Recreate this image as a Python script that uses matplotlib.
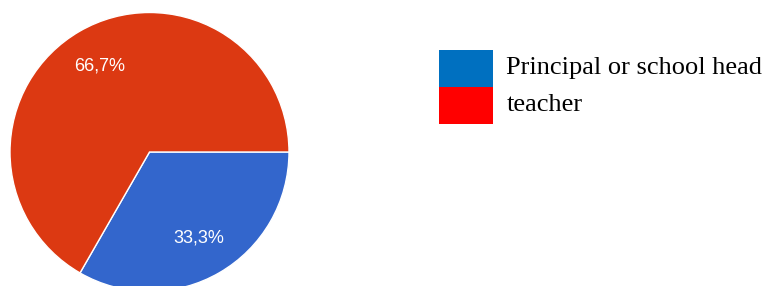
import matplotlib
matplotlib.use('Agg')
from matplotlib import pyplot as plt
from matplotlib.patches import Patch, Rectangle
from matplotlib.legend_handler import HandlerPatch

# -- DATA
labels = ['Principal or school head', 'teacher']
values = [33.3, 66.7]
pie_colors = ['#3366CC', '#DC3912']
legend_colors = ['#0070C0', '#FF0000']

W, H = 768, 286
fig = plt.figure(figsize=(W/100, H/100), dpi=100)

# pie axes: center (149.5, 152) px from top, radius 139.5 px
cx, cy, r = 149.5, 152, 139.5
ax = fig.add_axes([(cx-r)/W, (H-cy-r)/H, 2*r/W, 2*r/H])
wedges, texts, autotexts = ax.pie(values, colors=pie_colors, startangle=0, counterclock=False,
                                  autopct=lambda p: ('%.1f%%' % p).replace('.', ','),
                                  pctdistance=0.71, radius=1,
                                  wedgeprops=dict(edgecolor='white', linewidth=1))
for t in autotexts:
    t.set_color('white')
    t.set_fontsize(13)
    t.set_fontfamily('Liberation Sans')
ax.set_xlim(-1, 1)
ax.set_ylim(-1, 1)
ax.set_aspect('equal')
ax.axis('off')

# legend swatches, moved down a bit relative to the text baseline
shift = 3 * 0.72  # px -> pt
def swatch(legend, orig_handle, xdescent, ydescent, width, height, fontsize):
    return Rectangle((-xdescent, -ydescent - shift), width, height)

handles = [Patch(facecolor=c, edgecolor='none') for c in legend_colors]
fs = 19
fig.legend(handles, labels, loc='upper left', bbox_to_anchor=(439/W, 1-47/H),
           frameon=False, borderpad=0, borderaxespad=0,
           prop={'family': 'Liberation Serif', 'size': fs},
           handlelength=2.05, handleheight=1.777, handletextpad=0.5, labelspacing=0,
           handler_map={Patch: HandlerPatch(patch_func=swatch)})

fig.savefig('out.png', dpi=100)
